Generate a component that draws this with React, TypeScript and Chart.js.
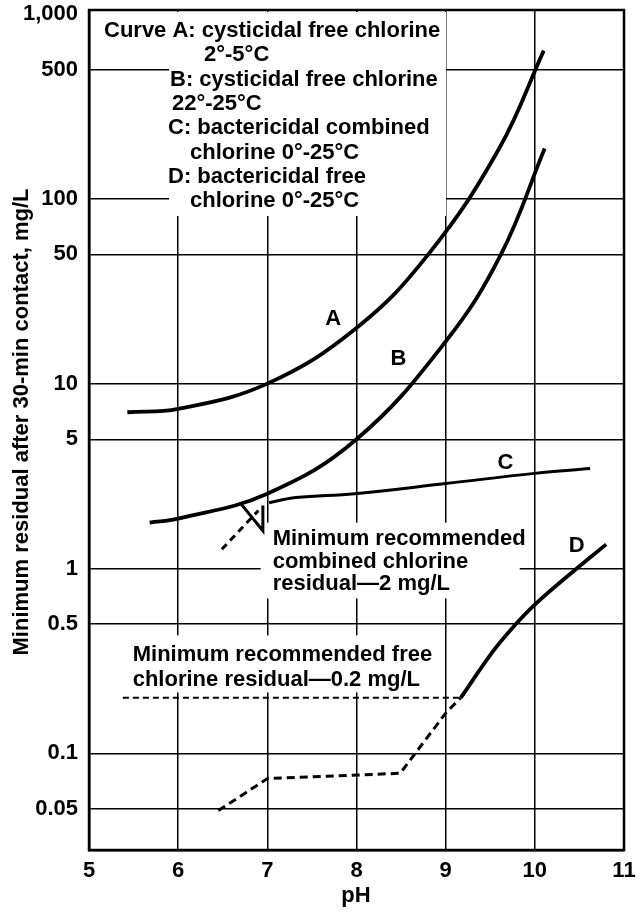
import React, { useEffect, useRef } from "react";
import { Chart, registerables } from "chart.js";

Chart.register(...registerables);

const FONT = "'Liberation Sans', Arial, Helvetica, sans-serif";

// Axis ticks
const xTicks = [5, 6, 7, 8, 9, 10, 11];
const yTicks = [0.05, 0.1, 0.5, 1, 5, 10, 50, 100, 500, 1000];
const yTickLabels = ["0.05", "0.1", "0.5", "1", "5", "10", "50", "100", "500", "1,000"];

// Curve A: cysticidal free chlorine 2-5 C
const curveA_pH = [5.43, 6.0, 7.0, 8.0, 8.805, 9.6, 10.1];
const curveA_val = [7.0, 7.3, 10, 20, 50, 187, 633];

// Curve B: cysticidal free chlorine 22-25 C
const curveB_pH = [5.68, 6.0, 7.0, 8.0, 9.0, 9.62, 10.11];
const curveB_val = [1.77, 1.86, 2.54, 5.0, 16.9, 50, 187];

// Curve C: bactericidal combined chlorine
const curveC_pH = [7.02, 7.32, 7.98, 9.0, 10.0, 10.62];
const curveC_val = [2.27, 2.42, 2.54, 2.88, 3.27, 3.47];
const curveCdash_pH = [6.49, 6.9];
const curveCdash_val = [1.27, 2.06];
const bracket_pH = [6.7, 6.95, 6.95];
const bracket_val = [2.25, 1.6, 2.19];

// Curve D: bactericidal free chlorine
const curveDdash_pH = [6.45, 7.0, 8.49, 9.0, 9.17];
const curveDdash_val = [0.049, 0.073, 0.078, 0.165, 0.2];
const curveD_pH = [9.17, 9.53, 9.76, 10.0, 10.47, 10.8];
const curveD_val = [0.2, 0.356, 0.484, 0.638, 1.0, 1.35];

// Minimum recommended free chlorine residual line
const freeMin_pH = [5.38, 9.17];
const freeMin_val = [0.2, 0.2];

// Text
const yTitle = "Minimum residual after 30-min contact, mg/L";
const xTitle = "pH";
const legendLines = [
  "Curve A: cysticidal free chlorine",
  "2°-5°C",
  "B: cysticidal free chlorine",
  "22°-25°C",
  "C: bactericidal combined",
  "chlorine 0°-25°C",
  "D: bactericidal free",
  "chlorine 0°-25°C",
];
const legendOffsets = [15, 115, 81, 83, 79, 101, 79, 101];
const combinedNote = ["Minimum recommended", "combined chlorine", "residual—2 mg/L"];
const combinedNotePos = { pH: 7.06, vals: [1.45, 1.08, 0.82] };
const freeNote = ["Minimum recommended free", "chlorine residual—0.2 mg/L"];
const freeNotePos = { pH: 5.49, vals: [0.339, 0.248] };
const curveLabels = ["A", "B", "C", "D"];
const curveLabel_pH = [7.74, 8.47, 9.67, 10.47];
const curveLabel_val = [22.5, 13.6, 3.74, 1.33];

const pts = (xs: number[], ys: number[]) => xs.map((v, i) => ({ x: v, y: ys[i] }));

const TEXT_FONT = `bold 22px ${FONT}`;

const overlay = {
  id: "overlay",
  beforeDatasetsDraw(chart: any) {
    const { ctx, chartArea } = chart;
    const { left, top } = chartArea;
    const xs = chart.scales.x;
    const ys = chart.scales.y;
    ctx.save();
    ctx.fillStyle = "#fff";
    // legend background
    ctx.fillRect(left + 12, top + 2, 345, 32);
    ctx.fillRect(left + 80, top + 2, 277, 204);
    ctx.font = TEXT_FONT;
    // combined note background
    {
      const x0 = xs.getPixelForValue(combinedNotePos.pH);
      const w = Math.max(...combinedNote.map((t) => ctx.measureText(t).width));
      const y0 = ys.getPixelForValue(combinedNotePos.vals[0]);
      const y1 = ys.getPixelForValue(combinedNotePos.vals[2]);
      ctx.fillRect(x0 - 12, y0 - 16, w + 6, y1 - y0 + 30);
    }
    {
      const x0 = xs.getPixelForValue(freeNotePos.pH);
      const w = Math.max(...freeNote.map((t) => ctx.measureText(t).width));
      const y0 = ys.getPixelForValue(freeNotePos.vals[0]);
      const y1 = ys.getPixelForValue(freeNotePos.vals[1]);
      ctx.fillRect(x0 - 8, y0 - 20, w + 14, y1 - y0 + 32);
    }
    // legend text
    ctx.fillStyle = "#000";
    ctx.textAlign = "left";
    ctx.textBaseline = "middle";
    legendLines.forEach((t, i) => {
      ctx.fillText(t, left + legendOffsets[i], top + 21 + i * 24.3);
    });
    ctx.restore();
  },
  afterDatasetsDraw(chart: any) {
    const { ctx } = chart;
    const xs = chart.scales.x;
    const ys = chart.scales.y;
    ctx.save();
    ctx.fillStyle = "#000";
    ctx.font = TEXT_FONT;
    ctx.textBaseline = "middle";
    ctx.textAlign = "left";
    combinedNote.forEach((t, i) => {
      ctx.fillText(t, xs.getPixelForValue(combinedNotePos.pH), ys.getPixelForValue(combinedNotePos.vals[i]));
    });
    freeNote.forEach((t, i) => {
      ctx.fillText(t, xs.getPixelForValue(freeNotePos.pH), ys.getPixelForValue(freeNotePos.vals[i]));
    });
    ctx.textAlign = "center";
    curveLabels.forEach((t, i) => {
      ctx.fillText(t, xs.getPixelForValue(curveLabel_pH[i]), ys.getPixelForValue(curveLabel_val[i]));
    });
    ctx.restore();
  },
  afterDraw(chart: any) {
    const { ctx, chartArea } = chart;
    const { left, top, right, bottom } = chartArea;
    ctx.save();
    ctx.strokeStyle = "#000";
    ctx.lineWidth = 2.5;
    ctx.strokeRect(left, top, right - left, bottom - top);
    ctx.fillStyle = "#000";
    ctx.font = TEXT_FONT;
    ctx.textAlign = "center";
    ctx.textBaseline = "middle";
    ctx.fillText(xTitle, 356, bottom + 46);
    ctx.translate(22, 422);
    ctx.rotate(-Math.PI / 2);
    ctx.fillText(yTitle, 0, 0);
    ctx.restore();
  },
};

export default function App() {
  const ref = useRef<HTMLCanvasElement | null>(null);
  useEffect(() => {
    if (!ref.current) return;
    const solid = (data: any, w: number) => ({
      data,
      borderColor: "#000",
      borderWidth: w,
      pointRadius: 0,
      fill: false,
      tension: 0.4,
    });
    const dashed = (data: any, w: number, dash: number[]) => ({
      data,
      borderColor: "#000",
      borderWidth: w,
      borderDash: dash,
      pointRadius: 0,
      fill: false,
      tension: 0,
    });
    const chart = new Chart(ref.current, {
      type: "line",
      data: {
        datasets: [
          solid(pts(curveA_pH, curveA_val), 3.8),
          solid(pts(curveB_pH, curveB_val), 3.8),
          solid(pts(curveC_pH, curveC_val), 3),
          dashed(pts(curveCdash_pH, curveCdash_val), 3, [7, 5]),
          dashed(pts(bracket_pH, bracket_val), 3, []),
          dashed(pts(curveDdash_pH, curveDdash_val), 3, [8, 5]),
          solid(pts(curveD_pH, curveD_val), 3.8),
          dashed(pts(freeMin_pH, freeMin_val), 2, [6, 4]),
        ],
      },
      options: {
        animation: false,
        responsive: false,
        devicePixelRatio: 1,
        layout: { padding: { top: 10, right: 15, left: 0, bottom: 0 } },
        plugins: { legend: { display: false }, tooltip: { enabled: false } },
        scales: {
          x: {
            type: "linear",
            min: 5,
            max: 11,
            afterBuildTicks: (s: any) => {
              s.ticks = xTicks.map((v) => ({ value: v }));
            },
            afterFit: (s: any) => {
              s.height = 64;
              s.paddingLeft = 0;
              s.paddingRight = 0;
            },
            ticks: {
              color: "#000",
              font: { family: FONT, size: 22, weight: "bold" },
              padding: 8,
              maxRotation: 0,
              autoSkip: false,
            },
            grid: { color: "#000", lineWidth: 1.5, drawTicks: false },
            border: { display: true, color: "#000", width: 2.5 },
          },
          y: {
            type: "logarithmic",
            min: 0.03,
            max: 1050,
            afterBuildTicks: (s: any) => {
              s.ticks = yTicks.map((v) => ({ value: v }));
            },
            afterFit: (s: any) => {
              s.width = 89;
              s.paddingTop = 0;
              s.paddingBottom = 0;
            },
            ticks: {
              color: "#000",
              font: { family: FONT, size: 22, weight: "bold" },
              padding: 11,
              autoSkip: false,
              callback: (v: any) => {
                const i = yTicks.indexOf(Number(v));
                return i >= 0 ? yTickLabels[i] : "";
              },
            },
            grid: {
              color: (c: any) => (c.tick && c.tick.value === 1000 ? "rgba(0,0,0,0)" : "#000"),
              lineWidth: 1.5,
              drawTicks: false,
            },
            border: { display: true, color: "#000", width: 2.5 },
          },
        },
      },
      plugins: [overlay],
    });
    return () => chart.destroy();
  }, []);
  return (
    <div style={{ position: "fixed", left: 0, top: 0, width: 639, height: 914, background: "#fff" }}>
      <canvas ref={ref} width={639} height={914} style={{ width: 639, height: 914 }} />
    </div>
  );
}
